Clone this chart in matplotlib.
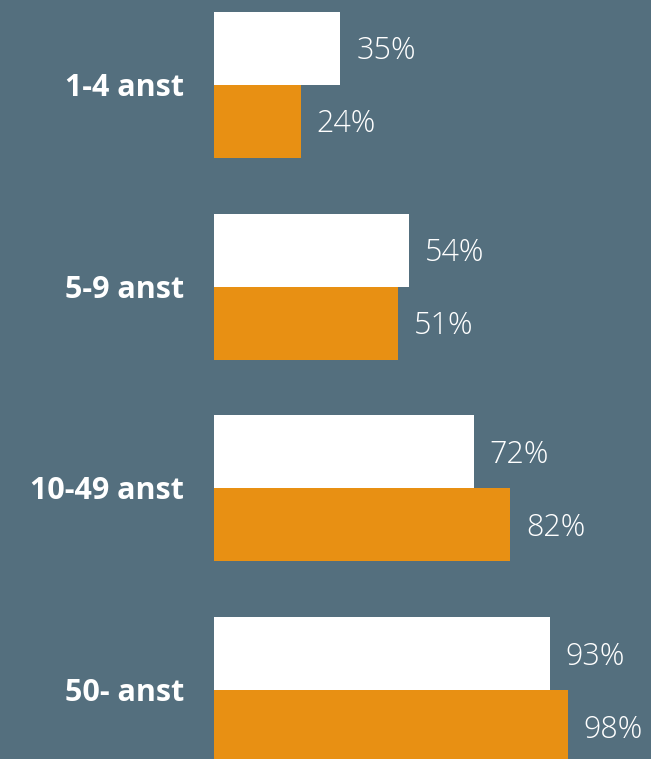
import numpy as np
import matplotlib.pyplot as plt

kategorier = ['1-4 anst', '5-9 anst', '10-49 anst', '50- anst']
serie_vit = [35, 54, 72, 93]
serie_orange = [24, 51, 82, 98]

bg = '#546f7e'
orange = '#e89013'

fig = plt.figure(figsize=(6.51, 7.59), dpi=100)
fig.patch.set_facecolor(bg)
ax = fig.add_axes([214/651, 0, 361/651, 1])
ax.set_facecolor(bg)

y = np.arange(len(kategorier))
h = 73/202
ax.barh(y - h/2, serie_vit, height=h, color='white')
ax.barh(y + h/2, serie_orange, height=h, color=orange)

ax.set_xlim(0, 100)
ax.set_ylim(3 + 69/202, -85/202)
ax.axis('off')

for i, (v, o) in enumerate(zip(serie_vit, serie_orange)):
    ax.text(v + 4.4, i - h/2 + 0.015, f'{v}%', va='center', ha='left', color='white',
            fontsize=22, family='Open Sans', fontweight='light', clip_on=False)
    ax.text(o + 4.4, i + h/2 + 0.015, f'{o}%', va='center', ha='left', color='white',
            fontsize=22, family='Open Sans', fontweight='light', clip_on=False)
    ax.text(-8.3, i + 0.015, kategorier[i], va='center', ha='right', color='white',
            fontsize=22, family='Open Sans', fontweight='bold', clip_on=False)

fig.savefig('out.png', dpi=100, facecolor=bg)
